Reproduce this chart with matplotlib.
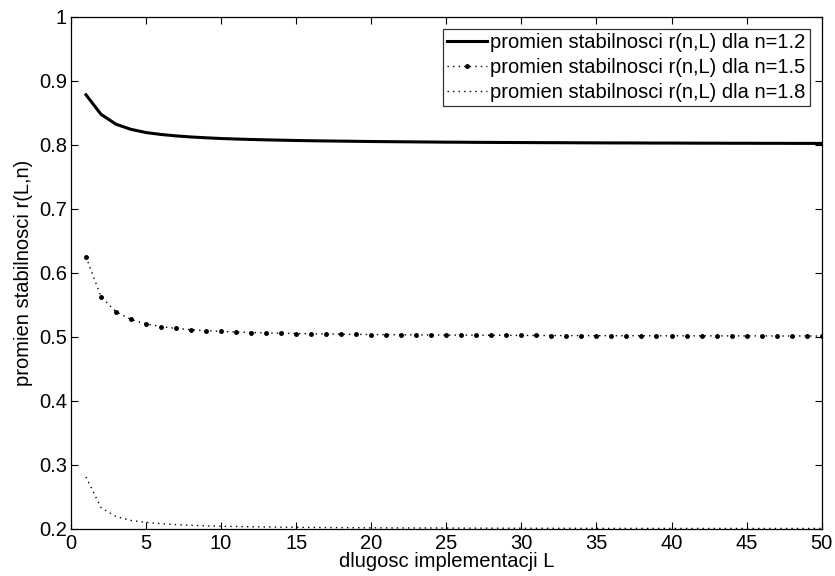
import matplotlib.pyplot as plt
import numpy as np

plt.rcParams['font.family'] = ['Liberation Sans', 'DejaVu Sans']

# implementation length L = 1..50
L = np.arange(1, 51)

# stability radius for n = 1.2
r_12 = [0.8780, 0.8475, 0.8320, 0.8240, 0.8190, 0.8160, 0.8138, 0.8121, 0.8108, 0.8097,
        0.8089, 0.8082, 0.8076, 0.8071, 0.8066, 0.8062, 0.8059, 0.8056, 0.8053, 0.8050,
        0.8048, 0.8046, 0.8044, 0.8042, 0.8040, 0.8039, 0.8037, 0.8036, 0.8035, 0.8034,
        0.8033, 0.8032, 0.8031, 0.8030, 0.8029, 0.8028, 0.8028, 0.8027, 0.8026, 0.8026,
        0.8025, 0.8024, 0.8024, 0.8023, 0.8023, 0.8022, 0.8022, 0.8021, 0.8021, 0.8020]

# stability radius for n = 1.5
r_15 = [0.6250, 0.5625, 0.5390, 0.5270, 0.5200, 0.5158, 0.5130, 0.5110, 0.5095, 0.5083,
        0.5074, 0.5066, 0.5060, 0.5055, 0.5050, 0.5046, 0.5043, 0.5040, 0.5037, 0.5035,
        0.5033, 0.5031, 0.5029, 0.5028, 0.5026, 0.5025, 0.5024, 0.5023, 0.5022, 0.5021,
        0.5020, 0.5019, 0.5019, 0.5018, 0.5017, 0.5017, 0.5016, 0.5016, 0.5015, 0.5015,
        0.5014, 0.5014, 0.5014, 0.5013, 0.5013, 0.5013, 0.5012, 0.5012, 0.5012, 0.5011]

# stability radius for n = 1.8
r_18 = [0.2810, 0.2330, 0.2190, 0.2130, 0.2100, 0.2080, 0.2065, 0.2054, 0.2046, 0.2040,
        0.2035, 0.2031, 0.2028, 0.2025, 0.2023, 0.2021, 0.2019, 0.2018, 0.2016, 0.2015,
        0.2014, 0.2013, 0.2012, 0.2012, 0.2011, 0.2010, 0.2010, 0.2009, 0.2009, 0.2008,
        0.2008, 0.2008, 0.2007, 0.2007, 0.2007, 0.2006, 0.2006, 0.2006, 0.2006, 0.2005,
        0.2005, 0.2005, 0.2005, 0.2005, 0.2005, 0.2005, 0.2005, 0.2005, 0.2005, 0.2005]

labels = ['promien stabilnosci r(n,L) dla n=1.2',
          'promien stabilnosci r(n,L) dla n=1.5',
          'promien stabilnosci r(n,L) dla n=1.8']

fs = 14.5

fig = plt.figure(figsize=(8.35, 5.76), dpi=100)
ax = fig.add_axes([0.085, 0.082, 0.899, 0.889])

ax.plot(L, r_12, color='black', linestyle='-', linewidth=2.2, label=labels[0])
ax.plot(L, r_15, color='black', linestyle=(0, (1, 3)), linewidth=1.0,
        marker='.', markersize=5, label=labels[1])
ax.plot(L, r_18, color='black', linestyle=(0, (1, 3)), linewidth=1.0, label=labels[2])

ax.set_xlim(0, 50)
ax.set_ylim(0.2, 1)
ax.set_xticks(np.arange(0, 51, 5))
ax.set_yticks(np.arange(0.2, 1.01, 0.1))
ax.set_yticklabels(['0.2', '0.3', '0.4', '0.5', '0.6', '0.7', '0.8', '0.9', '1'])
ax.tick_params(direction='in', top=True, right=True, length=5,
               labelsize=fs, width=0.8)
ax.tick_params(axis='x', pad=4)
ax.tick_params(axis='y', pad=3)
for s in ax.spines.values():
    s.set_linewidth(0.9)

ax.set_xlabel('dlugosc implementacji L', fontsize=fs, labelpad=-1)
ax.set_ylabel('promien stabilnosci r(L,n)', fontsize=fs, labelpad=4)

leg = ax.legend(loc='upper right', fontsize=fs, frameon=True, fancybox=False,
                edgecolor='black', handlelength=2.0, handletextpad=0.15,
                borderpad=0.2, labelspacing=0.3, borderaxespad=0.6)
leg.get_frame().set_linewidth(0.9)

fig.savefig('out.png', dpi=100)
